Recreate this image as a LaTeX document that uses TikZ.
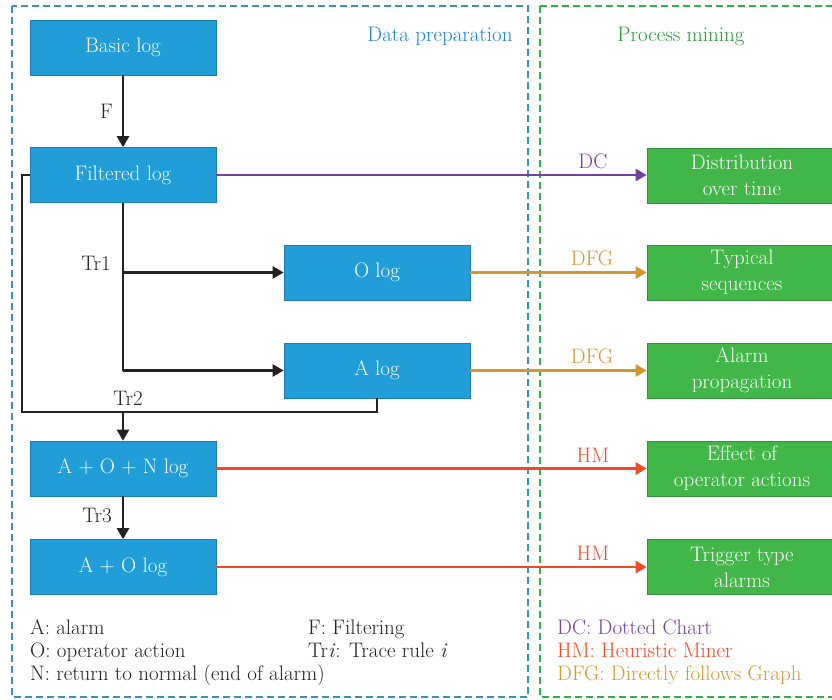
\documentclass[tikz,border=0pt]{standalone}
\usetikzlibrary{arrows.meta}
\definecolor{boxblue}{HTML}{219ED8}
\definecolor{boxgreen}{HTML}{41B649}
\definecolor{dashblue}{HTML}{3A8FBF}
\definecolor{dashgreen}{HTML}{2DB34A}
\definecolor{titleblue}{HTML}{1F82C4}
\definecolor{titlegreen}{HTML}{2E9440}
\definecolor{dcpurple}{HTML}{7440A0}
\definecolor{dfggold}{HTML}{D4972C}
\definecolor{hmred}{HTML}{F04A24}
\definecolor{ink}{HTML}{222222}
\tikzset{
  logbox/.style={draw=boxblue!80!black, line width=0.6pt, fill=boxblue, text=white, minimum width=186pt, minimum height=55pt, inner sep=0pt, font=\fontsize{21}{26}\selectfont},
  resbox/.style={draw=boxgreen!80!black, line width=0.6pt, fill=boxgreen, text=white, minimum width=190pt, minimum height=55pt, inner sep=0pt, align=center, font=\fontsize{21}{26}\selectfont},
  flow/.style={draw=ink, line width=2.4pt, -{Triangle[length=11pt,width=12pt]}},
  flowline/.style={draw=ink, line width=2.4pt},
  mine/.style={line width=2.4pt, -{Triangle[length=11pt,width=12pt]}},
  lbl/.style={font=\fontsize{21}{20}\selectfont, text=ink, inner sep=0pt},
  mlbl/.style={font=\fontsize{21}{20}\selectfont, inner sep=0pt, above=5pt},
  legend/.style={font=\fontsize{21}{23}\selectfont, text=ink, inner sep=0pt, anchor=north west, align=left},
  zone/.style={dashed, dash pattern=on 7pt off 4pt, line width=1.2pt},
}
\begin{document}
\begin{tikzpicture}[x=1pt,y=-1pt]
\useasboundingbox (0,0) rectangle (832,699);
% zones
\draw[zone, draw=dashblue] (12,6) rectangle (528,697);
\draw[zone, draw=dashgreen] (540,6) -- (836,6);
\draw[zone, draw=dashgreen] (540,6) -- (540,697) -- (836,697);
\node[font=\fontsize{21}{20}\selectfont, text=titleblue, inner sep=0pt] (t1) at (440,36) {Data preparation};
\node[font=\fontsize{21}{20}\selectfont, text=titlegreen, inner sep=0pt] (t2) at (681,36) {Process mining};
% log boxes
\node[logbox] (basic) at (123,47.5) {Basic log};
\node[logbox] (filt) at (123,175) {Filtered log};
\node[logbox] (olog) at (377,272.5) {O log};
\node[logbox] (alog) at (377,370.5) {A log};
\node[logbox] (aon) at (123,468.5) {A + O + N log};
\node[logbox] (ao) at (123,567) {A + O log};
% result boxes
\node[resbox] (r1) at (742,175.5) {Distribution\\over time};
\node[resbox] (r2) at (742,272.5) {Typical\\sequences};
\node[resbox] (r3) at (742,370.5) {Alarm\\propagation};
\node[resbox] (r4) at (742,468.5) {Effect of\\operator actions};
\node[resbox] (r5) at (742,567) {Trigger type\\alarms};
% data preparation flows
\draw[flow] (basic.south) -- node[lbl, left=9pt] {F} (filt.north);
\draw[flowline] (filt.south) -- (filt.south |- alog.west);
\draw[flow] (filt.south |- olog.west) -- (olog.west);
\draw[flow] (filt.south |- alog.west) -- (alog.west);
\node[lbl] (ltr1) at (96,263) {Tr1};
\draw[flowline] (filt.west) -- (22,175) -- (22,412) -| (alog.south);
\draw[flow] (123,412) -- (aon.north);
\node[lbl] (ltr2) at (128,398) {Tr2};
\draw[flow] (aon.south) -- node[lbl, left=10pt, pos=0.45] {Tr3} (ao.north);
% mining flows
\draw[mine, draw=dcpurple, fill=dcpurple] (filt.east) -- node[mlbl, pos=0.875, text=dcpurple] {DC} (r1.west |- filt.east);
\draw[mine, draw=dfggold, fill=dfggold] (olog.east) -- node[mlbl, pos=0.69, text=dfggold] {DFG} (r2.west);
\draw[mine, draw=dfggold, fill=dfggold] (alog.east) -- node[mlbl, pos=0.69, text=dfggold] {DFG} (r3.west);
\draw[mine, draw=hmred, fill=hmred] (aon.east) -- node[mlbl, pos=0.875, text=hmred] {HM} (r4.west);
\draw[mine, draw=hmred, fill=hmred] (ao.east) -- node[mlbl, pos=0.875, text=hmred] {HM} (r5.west);
% legends
\node[legend] (leg1) at (30,619.5) {A: alarm\\O: operator action\\N: return to normal (end of alarm)};
\node[legend] (leg2) at (308,619.5) {F: Filtering\\Tr\textit{i}: Trace rule \textit{i}};
\node[legend] (leg3) at (557,619.5) {\textcolor{dcpurple}{DC: Dotted Chart}\\\textcolor{hmred}{HM: Heuristic Miner}\\\textcolor{dfggold}{DFG: Directly follows Graph}};
\end{tikzpicture}
\end{document}
